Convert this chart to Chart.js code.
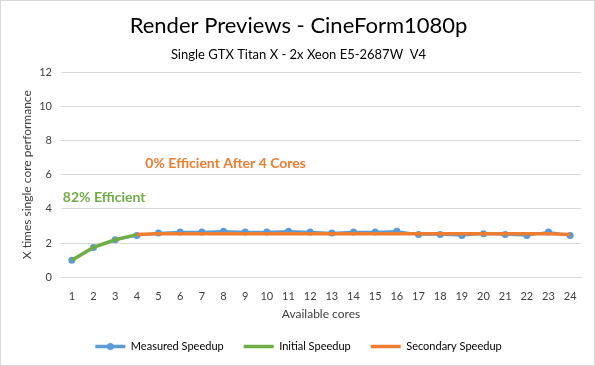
<!DOCTYPE html>
<html>
<head>
<meta charset="utf-8">
<script src="https://cdn.jsdelivr.net/npm/chart.js@4"></script>
<style>
  html, body { margin: 0; padding: 0; background: #fff; }
  #wrap { width: 595px; height: 366px; }
</style>
</head>
<body>
<div id="wrap"><canvas id="chart" width="595" height="366"></canvas></div>
<script>
const cores = ['1','2','3','4','5','6','7','8','9','10','11','12','13','14','15','16','17','18','19','20','21','22','23','24']
const measured = [1.0, 1.75, 2.2, 2.45, 2.6, 2.65, 2.65, 2.7, 2.65, 2.65, 2.7, 2.65, 2.6, 2.65, 2.65, 2.7, 2.5, 2.5, 2.45, 2.55, 2.5, 2.45, 2.65, 2.45]
const initial = [1.0, 1.75, 2.2, 2.5, null, null, null, null, null, null, null, null, null, null, null, null, null, null, null, null, null, null, null, null]
const secondary = [null, null, null, 2.5, 2.55, 2.55, 2.55, 2.55, 2.55, 2.55, 2.55, 2.55, 2.55, 2.55, 2.55, 2.55, 2.55, 2.55, 2.55, 2.55, 2.55, 2.55, 2.55, 2.5]
const yTicks = [0, 2, 4, 6, 8, 10, 12]

const FONT = 'Lato, "Open Sans", sans-serif'

// white background + thin frame
const framePlugin = {
  id: 'frame',
  beforeDraw(chart) {
    const c = chart.ctx
    c.save()
    c.fillStyle = '#fff'
    c.fillRect(0, 0, chart.width, chart.height)
    c.strokeStyle = '#d9d9d9'
    c.lineWidth = 1
    c.strokeRect(0.5, 0.5, chart.width - 1, chart.height - 1)
    c.restore()
  }
}

// text notes placed through the scales
const notesPlugin = {
  id: 'notes',
  afterDatasetsDraw(chart) {
    const c = chart.ctx
    const x = chart.scales.x, y = chart.scales.y
    c.save()
    c.font = 'bold 14px ' + FONT
    c.textBaseline = 'middle'
    c.fillStyle = '#70AD47'
    c.textAlign = 'left'
    c.fillText('82% Efficient', x.getPixelForValue(0) - 9, y.getPixelForValue(4.67))
    c.fillStyle = '#ED7D31'
    c.textAlign = 'center'
    c.fillText('0% Efficient After 4 Cores', x.getPixelForValue(7.1), y.getPixelForValue(6.68))
    c.restore()
  }
}

// dot on the measured legend line
const legendDot = {
  id: 'legendDot',
  afterDraw(chart) {
    const box = chart.legend.legendHitBoxes[0]
    if (!box) return
    const c = chart.ctx
    c.save()
    c.fillStyle = '#5B9BD5'
    c.beginPath()
    c.arc(box.left + 15, box.top + box.height / 2, 3.5, 0, Math.PI * 2)
    c.fill()
    c.restore()
  }
}

new Chart(document.getElementById('chart'), {
  type: 'line',
  data: {
    labels: cores,
    datasets: [
      { label: 'Measured Speedup', data: measured, borderColor: '#5B9BD5', backgroundColor: '#5B9BD5',
        borderWidth: 2.5, pointRadius: 3.5, pointBorderWidth: 0, pointStyle: 'circle', order: 2 },
      { label: 'Initial Speedup', data: initial, borderColor: '#70AD47', backgroundColor: '#70AD47',
        borderWidth: 3.5, pointRadius: 0, order: 1 },
      { label: 'Secondary Speedup', data: secondary, borderColor: '#ED7D31', backgroundColor: '#ED7D31',
        borderWidth: 3.5, pointRadius: 0, order: 1 }
    ]
  },
  options: {
    responsive: false,
    animation: false,
    layout: { padding: { left: 16, right: 14, top: 0, bottom: 4 } },
    elements: { line: { tension: 0 } },
    plugins: {
      title: { display: true, text: 'Render Previews - CineForm1080p', color: '#000',
        font: { family: FONT, size: 22, weight: 'normal' }, padding: { top: 13, bottom: 8 } },
      subtitle: { display: true, text: 'Single GTX Titan X - 2x Xeon E5-2687W  V4', color: '#000',
        font: { family: FONT, size: 13 }, padding: { top: 0, bottom: 9 } },
      legend: {
        position: 'bottom',
        labels: { usePointStyle: true, pointStyleWidth: 30, color: '#404040', boxHeight: 3,
          font: { family: FONT, size: 11 }, padding: 20,
          generateLabels(chart) {
            return chart.data.datasets.map((d, i) => ({
              text: d.label, fillStyle: d.borderColor, strokeStyle: d.borderColor,
              lineWidth: 3.5, pointStyle: 'line', datasetIndex: i, hidden: false
            }))
          }
        }
      },
      tooltip: { enabled: false }
    },
    scales: {
      x: {
        offset: true,
        grid: { display: false, offset: true },
        border: { color: '#d9d9d9' },
        ticks: { color: '#404040', font: { family: FONT, size: 11 }, maxRotation: 0, autoSkip: false, padding: 4 },
        title: { display: true, text: 'Available cores', color: '#404040', font: { family: FONT, size: 12 }, padding: { top: 0, bottom: 0 } }
      },
      y: {
        min: 0, max: 12,
        afterBuildTicks(s) { s.ticks = yTicks.map(v => ({ value: v })) },
        afterFit(s) { s.width = 45 },
        grid: { color: '#d9d9d9', drawTicks: false },
        border: { display: false },
        ticks: { color: '#404040', font: { family: FONT, size: 11 }, padding: 9 },
        title: { display: true, text: 'X times single core performance', color: '#404040', font: { family: FONT, size: 12 } }
      }
    }
  },
  plugins: [framePlugin, notesPlugin, legendDot]
})
</script>
</body>
</html>
